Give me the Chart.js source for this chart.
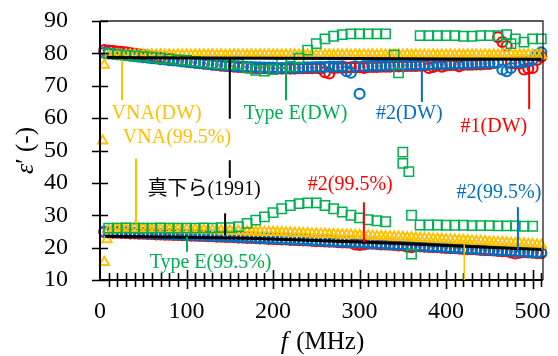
<!DOCTYPE html>
<html><head><meta charset="utf-8">
<script src="https://cdn.jsdelivr.net/npm/chart.js@4.4.1/dist/chart.umd.min.js"></script>
<style>html,body{margin:0;padding:0;background:#fff;} canvas{display:block;}</style>
</head><body>
<canvas id="c" width="558" height="356"></canvas>
<script>
// ---------- data ----------
const freq5 = [5,10,15,20,25,30,35,40,45,50,55,60,65,70,75,80,85,90,95,100,
105,110,115,120,125,130,135,140,145,150,155,160,165,170,175,180,185,190,195,200,
205,210,215,220,225,230,235,240,245,250,255,260,265,270,275,280,285,290,295,300,
305,310,315,320,325,330,335,340,345,350,355,360,365,370,375,380,385,390,395,400,
405,410,415,420,425,430,435,440,445,450,455,460,465,470,475,480,485,490,495,500,505,510];

const no1DW = [81.0,80.9,80.8,80.6,80.5,80.3,80.1,79.9,79.7,79.5,
79.3,79.1,78.9,78.7,78.5,78.3,78.1,77.9,77.7,77.5,
77.3,77.1,77.0,76.8,76.7,76.5,76.4,76.2,76.1,76.0,
75.9,75.8,75.7,75.6,75.5,75.5,75.4,75.4,75.3,75.3,
75.3,75.3,75.3,75.3,75.3,75.4,75.4,75.4,75.4,75.5,
75.3,74.2,73.8,75.5,75.6,75.6,75.6,75.7,75.7,75.7,
75.5,75.8,75.8,75.8,75.9,75.9,75.9,76.0,76.0,76.0,
76.1,76.1,76.1,76.2,76.2,75.5,75.8,76.3,75.9,76.3,
76.4,76.4,76.0,76.5,76.5,76.5,76.6,76.6,76.7,76.7,
77.0,85.0,83.5,82.3,77.0,76.8,76.9,75.0,75.3,75.5,78.0,79.0];

const no2DW = [80.2,80.0,79.9,79.7,79.6,79.4,79.3,79.1,79.0,78.8,
78.7,78.5,78.4,78.2,78.1,77.9,77.8,77.7,77.5,77.4,
77.3,77.1,77.0,76.9,76.8,76.6,76.5,76.4,76.3,76.2,
76.1,76.0,75.9,75.8,75.8,75.7,75.7,75.6,75.6,75.6,
75.5,75.5,75.5,75.6,75.6,75.6,75.7,75.7,75.7,75.8,
75.8,75.8,75.9,75.9,75.9,76.0,74.5,74.0,76.0,67.5,
76.1,76.1,76.2,76.2,76.2,76.3,76.3,76.3,76.4,76.4,
76.4,76.5,76.5,76.5,76.6,76.6,76.6,76.7,76.7,76.7,
76.8,76.8,76.8,76.9,76.9,76.9,77.0,77.0,77.0,77.1,
77.1,77.1,75.0,74.5,75.5,77.2,77.3,77.3,77.5,78.0,79.5,80.3];

const no2W995 = [25.0,24.9,24.8,24.8,24.7,24.7,24.6,24.6,24.5,24.5,
24.4,24.4,24.3,24.3,24.2,24.2,24.1,24.1,24.0,24.0,
23.9,23.9,23.8,23.8,23.7,23.7,23.6,23.6,23.5,23.5,
23.4,23.3,23.3,23.2,23.2,23.1,23.0,23.0,22.9,22.9,
22.8,22.7,22.7,22.6,22.6,22.5,22.4,22.4,22.3,22.2,
22.2,22.1,22.0,22.0,21.9,21.8,21.8,21.7,21.6,21.6,
21.5,21.4,21.4,21.3,21.2,21.2,21.1,21.0,20.9,20.9,
20.8,20.7,20.6,20.6,20.5,20.4,20.3,20.3,20.2,20.1,
20.0,20.0,19.9,19.8,19.7,19.7,19.6,19.5,19.4,19.4,
19.3,19.2,19.1,19.1,19.0,18.9,18.8,18.8,18.7,18.6,18.5,18.5];

const no2Red995 = [24.8,24.7,24.6,24.6,24.5,24.5,24.4,24.4,24.3,24.3,
24.2,24.2,24.1,24.1,24.0,24.0,23.9,23.9,23.8,23.8,
23.7,23.7,23.6,23.6,23.5,23.5,23.4,23.4,23.3,23.3,
23.2,23.1,23.1,23.0,23.0,22.9,22.8,22.8,22.7,22.7,
22.6,22.5,22.5,22.4,22.4,22.3,22.2,22.2,22.1,22.0,
22.0,21.9,21.8,21.8,21.7,21.6,21.6,21.5,21.0,20.8,
21.0,21.2,21.2,21.1,21.0,21.0,20.9,20.8,20.7,20.7,
20.3,20.1,20.4,20.4,20.3,20.2,20.1,20.1,20.0,19.9,
19.8,19.8,19.7,19.6,19.5,19.5,19.4,19.3,19.2,19.2,
19.1,19.0,18.9,18.9,18.5,18.2,18.4,18.6,18.5,18.4,18.3,18.3];

const vnaDW = [76.4,79.3,79.5,79.6,79.5,79.6,79.5,79.6,79.5,79.6,
79.5,79.6,79.5,79.6,79.5,79.6,79.5,79.6,79.5,79.6,
79.5,79.6,79.5,79.6,79.5,79.6,79.5,79.6,79.5,79.5,
79.6,79.5,79.6,79.5,79.6,79.5,79.6,79.5,79.6,79.5,
79.6,79.5,79.6,79.5,79.6,79.5,79.6,79.5,79.6,79.5,
79.6,79.5,79.6,79.5,79.6,79.5,79.6,79.5,79.6,79.5,
79.6,79.5,79.6,79.5,79.6,79.5,79.6,79.5,79.6,79.5,
79.6,79.5,79.6,79.5,79.6,79.5,79.6,79.5,79.6,79.5,
79.6,79.5,79.6,79.5,79.6,79.5,79.6,79.5,79.6,79.5,
79.6,79.5,79.6,79.5,79.6,79.5,79.6,79.5,79.6,79.5,79.6,79.5];

const vna995Freq = [3,5,8,10,15,20,25,30,35,40,45,50,55,60,65,70,75,80,85,90,95,100,
105,110,115,120,125,130,135,140,145,150,155,160,165,170,175,180,185,190,195,200,
205,210,215,220,225,230,235,240,245,250,255,260,265,270,275,280,285,290,295,300,
305,310,315,320,325,330,335,340,345,350,355,360,365,370,375,380,385,390,395,400,
405,410,415,420,425,430,435,440,445,450,455,460,465,470,475,480,485,490,495,500,505,510];
const vna995 = [53.0,15.5,22.5,
25.4,25.7,25.8,25.8,25.9,25.8,25.9,25.8,25.8,
25.8,25.7,25.8,25.7,25.7,25.7,25.6,25.7,25.6,25.6,
25.5,25.5,25.5,25.4,25.4,25.4,25.3,25.3,25.2,25.2,
25.1,25.1,25.0,25.0,25.0,24.9,24.9,24.8,24.8,24.8,
24.7,24.7,24.6,24.6,24.5,24.5,24.4,24.4,24.3,24.3,
24.2,24.2,24.1,24.1,24.0,24.0,23.9,23.9,23.8,23.8,
23.7,23.7,23.6,23.5,23.5,23.4,23.4,23.3,23.3,23.2,
23.1,23.1,23.0,22.9,22.9,22.8,22.7,22.7,22.6,22.5,
22.5,22.4,22.3,22.3,22.2,22.1,22.0,22.0,21.9,21.8,
21.7,21.7,21.6,21.5,21.4,21.3,21.3,21.2,21.1,21.0,20.9,20.8];

const typeEdwFreq = [10,20,30,40,50,60,70,80,90,100,110,120,130,140,150,160,170,180,190,200,
210,220,230,240,250,260,270,280,290,300,310,320,330,340,345,
370,380,390,400,410,420,430,440,450,460,470,475,480,490,500,510];
const typeEdw = [80.0,79.6,79.4,79.2,79.0,78.8,78.5,78.3,78.0,77.8,77.5,77.3,77.0,76.8,76.5,76.8,75.5,74.8,74.5,75.0,
77.0,76.0,78.5,81.0,83.0,84.5,85.3,85.8,86.0,86.0,86.0,86.0,86.0,79.5,74.0,
85.5,85.5,85.5,85.5,85.5,85.3,85.3,85.5,85.5,85.5,85.8,83.0,84.5,83.5,84.5,84.5];

const typeE995Freq = [10,20,30,40,50,60,70,80,90,100,110,120,130,140,150,160,170,180,190,200,
210,220,230,240,250,260,270,280,290,300,310,320,330,350,350,357,360,360,
370,380,390,400,410,420,430,440,450,460,470,480,490,500];
const typeE995 = [26.0,26.0,26.1,26.0,26.0,26.0,26.1,26.0,26.0,26.0,26.0,26.1,26.0,26.2,26.2,26.5,27.5,28.5,29.5,30.8,
32.0,33.0,33.6,33.8,33.8,33.0,32.0,31.0,30.0,29.2,28.6,28.3,28.0,49.5,46.0,43.5,30.0,18.0,
27.0,27.0,27.0,26.9,26.9,26.9,26.8,26.8,26.8,26.7,26.7,26.7,26.6,26.6];

const mashitaFreqDW = [8,100,200,300,400,510];
const mashitaDW = [78.7,78.6,78.5,78.4,78.3,78.2];
const mashitaFreq995 = [6,100,170,250,335,420,510];
const mashita995 = [23.5,23.2,22.9,22.2,21.4,20.4,19.4];

const xTickValues = [0,100,200,300,400,500];
const yTickValues = [10,20,30,40,50,60,70,80,90];

// ---------- callouts (data units) ----------
const RED='#FF0000', BLUE='#0070C0', GREEN='#00B050', ORANGE='#FFC000', BLACK='#000000';
const calloutLabels = [
  {text:'VNA(DW)', color:ORANGE, f:65.4, e:61.5},
  {text:'VNA(99.5%)', color:ORANGE, f:89, e:53.8},
  {text:'Type E(DW)', color:GREEN, f:226, e:61.5},
  {text:'#2(DW)', color:BLUE, f:357.4, e:61.5},
  {text:'#1(DW)', color:RED, f:455.2, e:57.2},
  {text:'真下ら(1991)', color:BLACK, f:120.3, e:37.8},
  {text:'Type E(99.5%)', color:GREEN, f:127.8, e:15.2},
  {text:'#2(99.5%)', color:RED, f:289.2, e:39.3},
  {text:'#2(99.5%)', color:BLUE, f:461, e:36.8}
];
const calloutLines = [
  {color:ORANGE, f:25.4, from:78.0, to:65.6, w:2},
  {color:ORANGE, f:41.6, from:47.5, to:27.5, w:2},
  {color:GREEN, f:215, from:77.0, to:65.5, w:2},
  {color:BLUE, f:372, from:75.0, to:65.0, w:2},
  {color:RED, f:496, from:76.0, to:62.8, w:2},
  {color:BLACK, f:150, from:78.3, to:59.8, w:2},
  {color:BLACK, f:150, from:47.0, to:41.5, w:2},
  {color:BLACK, f:144.6, from:30.6, to:23.9, w:2},
  {color:GREEN, f:100.6, from:23.4, to:18.7, w:2},
  {color:RED, f:305, from:34.0, to:21.7, w:2},
  {color:BLUE, f:483, from:32.5, to:18.6, w:2},
  {color:ORANGE, f:421, from:21.0, to:10.0, w:1.5}
];

const xy = (xs, ys) => xs.map((x, i) => ({x, y: ys[i]}));
const SERIF = "'Liberation Serif', 'Times New Roman', serif";
const LABELFONT = "20px 'Liberation Serif', 'Noto Sans CJK JP', serif";

const deco = {
  id: 'deco',
  afterDatasetsDraw(chart) {
    const {ctx, chartArea: a, scales: {x, y}} = chart;
    ctx.save();
    ctx.strokeStyle = '#222'; ctx.lineWidth = 1.3;
    ctx.beginPath();
    ctx.moveTo(a.left, a.top); ctx.lineTo(a.right, a.top); ctx.lineTo(a.right, a.bottom);
    ctx.stroke();
    ctx.strokeStyle = '#000'; ctx.lineWidth = 2;
    ctx.beginPath();
    ctx.moveTo(a.left, a.top); ctx.lineTo(a.left, a.bottom); ctx.lineTo(a.right, a.bottom);
    ctx.stroke();
    ctx.lineWidth = 1.6;
    ctx.beginPath();
    for (const v of yTickValues) {
      const py = Math.round(y.getPixelForValue(v)) + 0.5;
      ctx.moveTo(a.left - 8, py); ctx.lineTo(a.left + 8, py);
    }
    for (let v = 10; v <= 510; v += 10) {
      const px = Math.round(x.getPixelForValue(v)) + 0.5;
      const major = v % 100 === 0;
      ctx.moveTo(px, a.bottom - (major ? 10 : 7)); ctx.lineTo(px, a.bottom + (major ? 9 : 7));
    }
    ctx.stroke();
    for (const l of calloutLines) {
      const px = x.getPixelForValue(l.f);
      ctx.strokeStyle = l.color; ctx.lineWidth = l.w;
      ctx.beginPath();
      ctx.moveTo(px, y.getPixelForValue(l.from)); ctx.lineTo(px, y.getPixelForValue(l.to));
      ctx.stroke();
    }
    ctx.font = LABELFONT; ctx.textAlign = 'center'; ctx.textBaseline = 'middle';
    for (const t of calloutLabels) {
      ctx.fillStyle = t.color;
      ctx.fillText(t.text, x.getPixelForValue(t.f), y.getPixelForValue(t.e));
    }
    ctx.fillStyle = '#000'; ctx.textBaseline = 'middle'; ctx.textAlign = 'left';
    const it = "italic 26px " + SERIF, nf = "25px " + SERIF;
    ctx.font = it; const w1 = ctx.measureText('f').width;
    ctx.font = nf; const w2 = ctx.measureText(' (MHz)').width;
    const cx = (a.left + a.right) / 2, xs = cx - (w1 + w2) / 2;
    ctx.font = it; ctx.fillText('f', xs, 342);
    ctx.font = nf; ctx.fillText(' (MHz)', xs + w1 + 2, 342);
    ctx.save();
    ctx.translate(26, (a.top + a.bottom) / 2);
    ctx.rotate(-Math.PI / 2);
    ctx.font = it; const v1 = ctx.measureText('ε').width;
    ctx.font = nf; const v2 = ctx.measureText('′ (-)').width;
    const ys = -(v1 + v2) / 2;
    ctx.font = it; ctx.fillText('ε', ys, 0);
    ctx.font = nf; ctx.fillText('′ (-)', ys + v1, 0);
    ctx.restore();
    ctx.restore();
  }
};

const circ = (data, color) => ({data, pointStyle:'circle', pointRadius:5, borderColor:color, backgroundColor:'rgba(0,0,0,0)', borderWidth:2.1, showLine:false, clip:false});
const sq = (data, color) => ({data, pointStyle:'rect', pointRadius:6.6, borderColor:color, backgroundColor:'rgba(0,0,0,0)', borderWidth:1.5, showLine:false, clip:false});
const tri = (data, color) => ({data, pointStyle:'triangle', pointRadius:5.5, borderColor:color, backgroundColor:'rgba(0,0,0,0)', borderWidth:1.9, showLine:false, clip:false});
const ln = (data) => ({data, showLine:true, pointRadius:0, borderColor:'#000', borderWidth:3, clip:false});

Chart.defaults.font.family = SERIF;
Chart.defaults.color = '#000';

new Chart(document.getElementById('c'), {
  type: 'scatter',
  data: {
    datasets: [
      ln(xy(mashitaFreqDW, mashitaDW)),
      ln(xy(mashitaFreq995, mashita995)),
      sq(xy(typeEdwFreq, typeEdw), GREEN),
      sq(xy(typeE995Freq, typeE995), GREEN),
      tri(xy(freq5, vnaDW), ORANGE),
      tri(xy(vna995Freq, vna995), ORANGE),
      circ(xy(freq5, no2DW), BLUE),
      circ(xy(freq5, no2W995), BLUE),
      circ(xy(freq5, no1DW), RED),
      circ(xy(freq5, no2Red995), RED)
    ]
  },
  options: {
    responsive: false, animation: false, devicePixelRatio: 1,
    layout: {padding: {top: 21, right: 15, left: 0, bottom: 0}},
    plugins: {legend: {display: false}, tooltip: {enabled: false}},
    scales: {
      x: {
        type: 'linear', min: 0, max: 512,
        grid: {display: false, drawTicks: false}, border: {display: false},
        afterBuildTicks: s => { s.ticks = xTickValues.map(v => ({value: v})); },
        afterFit: s => { s.height = 76; s.paddingLeft = 0; s.paddingRight = 0; s.paddingTop = 0; s.paddingBottom = 0; },
        ticks: {font: {size: 24, family: SERIF}, color: '#000', padding: 17, maxRotation: 0, autoSkip: false}
      },
      y: {
        type: 'linear', min: 10, max: 90,
        grid: {display: false, drawTicks: false}, border: {display: false},
        afterBuildTicks: s => { s.ticks = yTickValues.map(v => ({value: v})); },
        afterFit: s => { s.width = 100; s.paddingTop = 0; s.paddingBottom = 0; s.paddingLeft = 0; s.paddingRight = 0; },
        ticks: {font: {size: 24, family: SERIF}, color: '#000', padding: 32, autoSkip: false}
      }
    }
  },
  plugins: [deco]
});
</script>
</body></html>
